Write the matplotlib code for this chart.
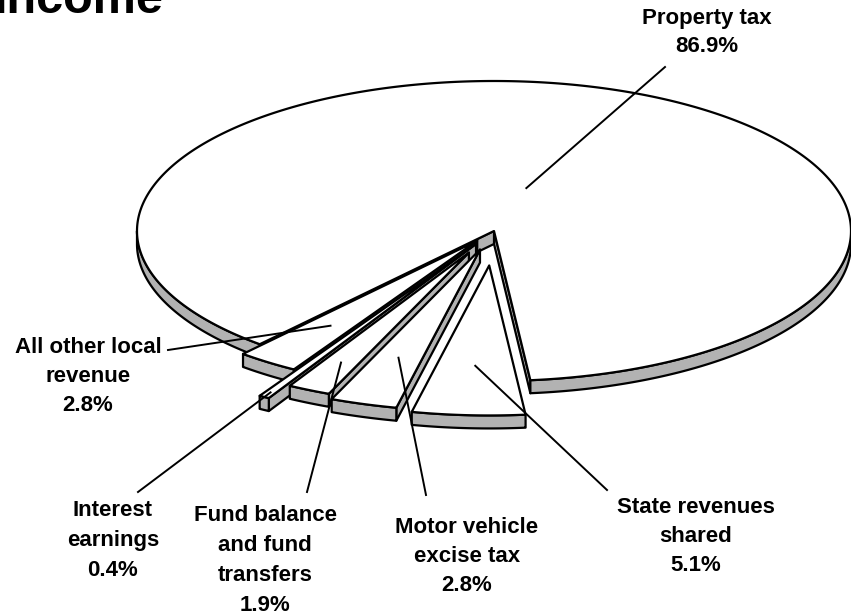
import numpy as np
import matplotlib
matplotlib.use("Agg")
import matplotlib.pyplot as plt

# ---------------- data ----------------
title = "Income"
labels = ["All other local\nrevenue", "Interest\nearnings", "Fund balance\nand fund\ntransfers",
          "Motor vehicle\nexcise tax", "State revenues\nshared", "Property tax"]
shares = [2.8, 0.4, 1.9, 2.8, 5.1, 86.9]
pct_labels = ["2.8%", "0.4%", "1.9%", "2.8%", "5.1%", "86.9%"]

# ---------------- layout / style ----------------
W, H = 851, 615
cx, cy = 494, 231          # pie centre (pixels)
rx, ry = 357, 150          # ellipse radii
depth = 13                 # side thickness
start = -131               # start angle (deg, ccw)
explode = [0.08, 0.10, 0.16, 0.13, 0.23, 0.0]
rscale = [1.0, 1.18, 1.02, 1.08, 1.0, 1.0]
anchor_frac = [0.7, 0.97, 0.8, 0.7, 0.67, 0.3]
text_x = [88, 113, 265, 467, 696, 707]
text_y0 = [345, 508, 513, 525, 505, 16]
text_dy = [29, 30, 30, 29, 29, 28]
line_end = [(168, 350), (138, 492), (307, 492), (426, 495), (607, 490), (665, 67)]
side_color = "#b2b2b2"
lw = 1.6
font = "Liberation Sans"

fig = plt.figure(figsize=(W / 100, H / 100), dpi=100)
ax = fig.add_axes([0, 0, 1, 1])
ax.set_xlim(0, W)
ax.set_ylim(H, 0)
ax.axis("off")

k = ry / rx


def pt(ox, oy, r, th):
    th = np.radians(th)
    return ox + r * np.cos(th), oy - k * r * np.sin(th)


def visible_intervals(t1, t2):
    out = []
    for n in range(-2, 3):
        a, b = -180 + 360 * n, 0 + 360 * n
        lo, hi = max(t1, a), min(t2, b)
        if hi > lo:
            out.append((lo, hi))
    return out


total = sum(shares)
spans = [360 * s / total for s in shares]
t_starts = start + np.concatenate([[0], np.cumsum(spans)[:-1]])

geo = []
for i in range(len(shares)):
    t1 = t_starts[i]
    t2 = t1 + spans[i]
    bis = (t1 + t2) / 2
    ox, oy = pt(cx, cy, explode[i] * rx, bis)
    R = rscale[i] * rx
    geo.append((t1, t2, bis, ox, oy, R))

order = [5, 0, 1, 2, 3, 4]
z = 1
for i in order:
    t1, t2, bis, ox, oy, R = geo[i]
    # radial faces
    for t, vis in ((t1, np.cos(np.radians(t1)) > 0), (t2, np.cos(np.radians(t2)) < 0)):
        if vis:
            ex, ey = pt(ox, oy, R, t)
            ax.fill([ox, ex, ex, ox], [oy, ey, ey + depth, oy + depth],
                    facecolor=side_color, edgecolor="black", lw=lw, joinstyle="round", zorder=z)
    # rim sides
    for lo, hi in visible_intervals(t1, t2):
        th = np.linspace(lo, hi, 200)
        xs, ys = pt(ox, oy, R, th)
        px = np.concatenate([xs, xs[::-1]])
        py = np.concatenate([ys, ys[::-1] + depth])
        ax.fill(px, py, facecolor=side_color, edgecolor="black", lw=lw, joinstyle="round", zorder=z)
    # top face
    th = np.linspace(t1, t2, 600)
    xs, ys = pt(ox, oy, R, th)
    ax.fill(np.concatenate([[ox], xs]), np.concatenate([[oy], ys]),
            facecolor="white", edgecolor="black", lw=lw, joinstyle="round", zorder=z + 0.5)
    z += 1

# labels and leader lines
for i in range(len(shares)):
    t1, t2, bis, ox, oy, R = geo[i]
    axp, ayp = pt(ox, oy, anchor_frac[i] * R, bis)
    lx, ly = line_end[i]
    ax.plot([axp, lx], [ayp, ly], color="black", lw=1.4, zorder=20)
    lines = labels[i].split("\n") + [pct_labels[i]]
    for j, s in enumerate(lines):
        ax.text(text_x[i], text_y0[i] + j * text_dy[i], s, ha="center", va="center_baseline",
                fontsize=16, fontweight="bold", family=font, zorder=21)

ax.text(-6, 13, title, ha="left", va="baseline", fontsize=35, fontweight="bold",
        family=font, zorder=21)

fig.savefig("out.png", dpi=100)
